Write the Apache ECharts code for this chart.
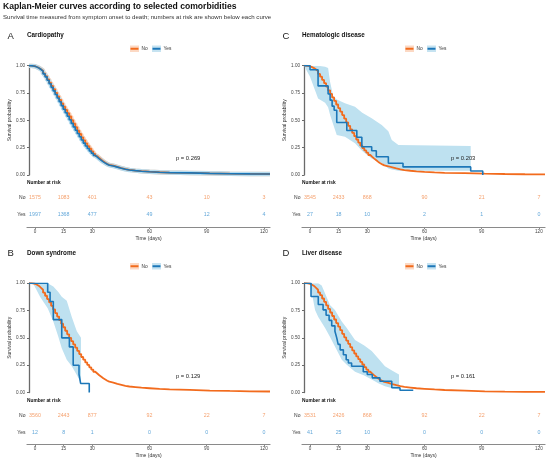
<!DOCTYPE html>
<html>
<head>
<meta charset="utf-8">
<script src="https://cdn.jsdelivr.net/npm/echarts@6/dist/echarts.min.js"></script>
<style>
  html, body { margin: 0; padding: 0; background: #fff; }
  #chart { width: 550px; height: 461px; }
</style>
</head>
<body>
<div id="chart"></div>
<script>
// risk table times and KM sampling times (days)
const riskTimes = [0, 15, 30, 60, 90, 120];
const kmTimes = [0, 1, 2, 3, 4, 5, 6, 7, 8, 9, 10, 11, 12, 13, 14, 15, 16, 17, 18, 19, 20,
  21, 22, 23, 24, 25, 26, 27, 28, 29, 30, 31, 32, 33, 34, 35, 36, 37, 38, 39, 40,
  42, 44, 46, 48, 50, 53, 56, 60, 65, 70, 80, 90, 100, 110, 120];

// A - Cardiopathy
const cardioNoS = [1, 0.998, 0.995, 0.988, 0.98, 0.968, 0.955, 0.93, 0.905, 0.875, 0.845, 0.815, 0.785, 0.752, 0.72, 0.688, 0.655, 0.625, 0.595, 0.565, 0.535,
  0.502, 0.47, 0.437, 0.405, 0.375, 0.345, 0.317, 0.29, 0.265, 0.24, 0.215, 0.192, 0.173, 0.155, 0.14, 0.125, 0.112, 0.1, 0.092, 0.085,
  0.074, 0.063, 0.054, 0.047, 0.04, 0.035, 0.03, 0.025, 0.022, 0.019, 0.015, 0.012, 0.01, 0.009, 0.008];
const cardioYesS = [1, 0.998, 0.995, 0.987, 0.978, 0.965, 0.95, 0.925, 0.898, 0.867, 0.835, 0.802, 0.77, 0.737, 0.705, 0.67, 0.635, 0.602, 0.57, 0.537, 0.505,
  0.472, 0.44, 0.41, 0.38, 0.35, 0.32, 0.292, 0.265, 0.242, 0.22, 0.2, 0.18, 0.164, 0.148, 0.134, 0.12, 0.109, 0.098, 0.09, 0.082,
  0.072, 0.062, 0.053, 0.046, 0.04, 0.035, 0.03, 0.025, 0.022, 0.019, 0.015, 0.012, 0.01, 0.009, 0.008];
const cardioRiskNo = [1575, 1083, 401, 43, 10, 3];
const cardioRiskYes = [1997, 1368, 477, 49, 12, 4];

// C - Hematologic disease
const hematNoS = [1, 0.998, 0.995, 0.987, 0.978, 0.965, 0.95, 0.925, 0.9, 0.87, 0.84, 0.808, 0.775, 0.742, 0.71, 0.678, 0.645, 0.612, 0.58, 0.548, 0.515,
  0.482, 0.45, 0.417, 0.385, 0.355, 0.325, 0.297, 0.27, 0.247, 0.225, 0.204, 0.183, 0.166, 0.15, 0.135, 0.12, 0.108, 0.097, 0.088, 0.08,
  0.07, 0.06, 0.051, 0.045, 0.039, 0.034, 0.029, 0.024, 0.02, 0.017, 0.012, 0.009, 0.007, 0.006, 0.005];
const hematYesT = [0, 3, 7, 12, 13, 14, 15, 16.3, 21.3, 26.3, 28.8, 33.7, 36, 42, 49.3, 83, 89];
const hematYesS = [1, 0.963, 0.815, 0.741, 0.685, 0.63, 0.593, 0.481, 0.407, 0.345, 0.259, 0.222, 0.167, 0.107, 0.074, 0.037, 0];
const hematBandT = [0, 3, 7, 10.5, 12, 13, 14.6, 16.3, 20.4, 25.4, 29, 33.7, 38.7, 42, 43.7, 47, 83];
const hematBandHi = [1, 1, 1, 0.99, 0.98, 0.85, 0.716, 0.69, 0.656, 0.625, 0.57, 0.52, 0.457, 0.4, 0.32, 0.275, 0.265];
const hematBandLo = [1, 0.9, 0.7, 0.66, 0.62, 0.55, 0.46, 0.366, 0.35, 0.29, 0.22, 0.15, 0.11, 0.06, 0.05, 0.04, 0.04];
const hematRiskNo = [3545, 2433, 868, 90, 21, 7];
const hematRiskYes = [27, 18, 10, 2, 1, 0];

// B - Down syndrome
const downNoS = [1, 0.998, 0.995, 0.986, 0.975, 0.958, 0.94, 0.913, 0.885, 0.855, 0.825, 0.793, 0.76, 0.727, 0.695, 0.662, 0.63, 0.597, 0.565, 0.532, 0.5,
  0.47, 0.44, 0.41, 0.38, 0.352, 0.325, 0.3, 0.275, 0.252, 0.23, 0.21, 0.19, 0.174, 0.158, 0.144, 0.13, 0.119, 0.108, 0.099, 0.09,
  0.079, 0.07, 0.061, 0.055, 0.05, 0.044, 0.039, 0.033, 0.028, 0.024, 0.018, 0.014, 0.011, 0.009, 0.008];
const downYesT = [0, 9.3, 10.5, 12.1, 16.3, 20.1, 22, 24.9, 25.7, 30];
const downYesS = [1, 0.917, 0.833, 0.667, 0.5, 0.417, 0.25, 0.167, 0.083, 0];
const downBandT = [2, 5.5, 9.3, 12.1, 14.6, 16.3, 18.8, 21.3, 23.8, 25.9];
const downBandHi = [1, 1, 1, 0.97, 0.92, 0.875, 0.84, 0.69, 0.56, 0.5];
const downBandLo = [1, 0.875, 0.77, 0.65, 0.51, 0.405, 0.3, 0.24, 0.16, 0.09];
const downRiskNo = [3560, 2443, 877, 92, 22, 7];
const downRiskYes = [12, 8, 1, 0, 0, 0];

// D - Liver disease
const liverNoS = [1, 0.998, 0.995, 0.986, 0.975, 0.958, 0.94, 0.915, 0.89, 0.86, 0.83, 0.798, 0.765, 0.732, 0.7, 0.668, 0.635, 0.602, 0.57, 0.537, 0.505,
  0.475, 0.445, 0.415, 0.385, 0.357, 0.33, 0.305, 0.28, 0.256, 0.232, 0.21, 0.19, 0.173, 0.157, 0.142, 0.128, 0.117, 0.106, 0.097, 0.088,
  0.077, 0.067, 0.058, 0.051, 0.045, 0.039, 0.034, 0.028, 0.023, 0.018, 0.011, 0.008, 0.006, 0.005, 0.005];
const liverYesT = [0, 3.5, 7.1, 9.5, 11, 12.5, 13.8, 15.4, 16.3, 17, 18, 19.6, 21, 22.1, 23.7, 29.5, 31.5, 34, 37.8, 43.7, 47.8, 54.4];
const liverYesS = [1, 0.878, 0.805, 0.756, 0.707, 0.66, 0.61, 0.56, 0.5, 0.44, 0.39, 0.345, 0.3, 0.27, 0.24, 0.19, 0.164, 0.134, 0.103, 0.043, 0.02, 0.02];
const liverBandT = [0, 3, 5.5, 7.1, 8.8, 10.5, 12.9, 15.4, 18.8, 21.3, 25.4, 30, 33.7, 37, 40.3, 44, 47.3];
const liverBandHi = [1, 1, 1, 1, 0.98, 0.906, 0.8, 0.755, 0.65, 0.59, 0.48, 0.43, 0.38, 0.31, 0.24, 0.2, 0.164];
const liverBandLo = [1, 1, 0.755, 0.69, 0.64, 0.59, 0.51, 0.42, 0.3, 0.255, 0.19, 0.155, 0.118, 0.085, 0.057, 0.04, 0.027];
const liverRiskNo = [3531, 2426, 868, 92, 22, 7];
const liverRiskYes = [41, 25, 10, 0, 0, 0];

const FONT = 'Liberation Sans, Arial, sans-serif';
const ORANGE = '#F26B1D';
const BLUE = '#1C77B8';
const ORANGE_TXT = '#F3894A';
const BLUE_TXT = '#3B91CF';
const BAND = '#BEE1F0';

const panels = [
  { letter: 'A', title: 'Cardiopathy', ox: 0, oy: 0, noT: kmTimes, noS: cardioNoS, yesT: kmTimes, yesS: cardioYesS,
    halo: true, riskNo: cardioRiskNo, riskYes: cardioRiskYes, p: 'p = 0.269' },
  { letter: 'C', title: 'Hematologic disease', ox: 275, oy: 0, noT: kmTimes, noS: hematNoS, yesT: hematYesT, yesS: hematYesS,
    band: [hematBandT, hematBandLo, hematBandHi], riskNo: hematRiskNo, riskYes: hematRiskYes, p: 'p = 0.203' },
  { letter: 'B', title: 'Down syndrome', ox: 0, oy: 217.5, noT: kmTimes, noS: downNoS, yesT: downYesT, yesS: downYesS,
    band: [downBandT, downBandLo, downBandHi], riskNo: downRiskNo, riskYes: downRiskYes, p: 'p = 0.129' },
  { letter: 'D', title: 'Liver disease', ox: 275, oy: 217.5, noT: kmTimes, noS: liverNoS, yesT: liverYesT, yesS: liverYesS,
    band: [liverBandT, liverBandLo, liverBandHi], riskNo: liverRiskNo, riskYes: liverRiskYes, p: 'p = 0.161' }
];

const zip = (t, s) => t.map((v, i) => [v, s[i]]);

const grid = [], xAxis = [], yAxis = [], series = [];
const graphic = [
  { type: 'text', left: 3, top: 2, z: 100, style: { text: 'Kaplan-Meier curves according to selected comorbidities',
    font: 'bold 8.6px ' + FONT, fill: '#111' } },
  { type: 'text', left: 3, top: 14.5, z: 100, style: { text: 'Survival time measured from symptom onset to death; numbers at risk are shown below each curve',
    font: '6.1px ' + FONT, fill: '#333' } }
];

panels.forEach((p, i) => {
  const gp = i * 2, gr = i * 2 + 1;
  grid.push({ left: p.ox + 27, top: p.oy + 65.7, width: 243, height: 109.3 });
  grid.push({ left: p.ox + 27, top: p.oy + 189.5, width: 243, height: 34 });

  xAxis.push({ type: 'value', gridIndex: gp, min: -1, max: 120, show: false });
  xAxis.push({
    type: 'value', gridIndex: gr, min: -4.2, max: 123.2, offset: 3.5,
    name: 'Time (days)', nameLocation: 'middle', nameGap: 9,
    nameTextStyle: { fontSize: 5, color: '#333', fontFamily: FONT },
    axisLine: { show: true, lineStyle: { color: '#8a8a8a', width: 1.2 } },
    axisTick: { show: true, length: 2, lineStyle: { color: '#8a8a8a' }, customValues: riskTimes },
    axisLabel: { fontSize: 4.6, color: '#444', margin: 2, fontFamily: FONT, customValues: riskTimes },
    splitLine: { show: false }
  });

  yAxis.push({
    type: 'value', gridIndex: gp, min: 0, max: 1, interval: 0.25,
    name: 'Survival probability', nameLocation: 'middle', nameGap: 14,
    nameTextStyle: { fontSize: 5, color: '#333', fontFamily: FONT },
    axisLine: { show: true, lineStyle: { color: '#6a6a6a', width: 1.3 } },
    axisTick: { show: true, length: 2, lineStyle: { color: '#6a6a6a' } },
    axisLabel: { fontSize: 4.6, color: '#444', margin: 2, fontFamily: FONT, formatter: v => v.toFixed(2) },
    splitLine: { show: false }
  });
  yAxis.push({
    type: 'category', gridIndex: gr, data: ['Yes', 'No'],
    axisLine: { show: false }, axisTick: { show: false },
    axisLabel: { fontSize: 5, color: '#333', margin: 1.5, fontFamily: FONT }
  });

  if (p.band) {
    const [bt, lo, hi] = p.band;
    series.push({
      type: 'custom', xAxisIndex: gp, yAxisIndex: gp, silent: true, z: 1, clip: true,
      data: [[0, 0]],
      renderItem: (params, api) => {
        const pts = bt.map((t, k) => api.coord([t, hi[k]]));
        for (let k = bt.length - 1; k >= 0; k--) pts.push(api.coord([bt[k], lo[k]]));
        return { type: 'polygon', shape: { points: pts }, style: { fill: BAND } };
      }
    });
  }
  if (p.halo) {
    series.push({ type: 'line', xAxisIndex: gp, yAxisIndex: gp, step: 'end', showSymbol: false, silent: true, z: 1,
      data: zip(p.noT, p.noS), lineStyle: { color: '#FBCDB0', width: 4.5 } });
    series.push({ type: 'line', xAxisIndex: gp, yAxisIndex: gp, step: 'end', showSymbol: false, silent: true, z: 1,
      data: zip(p.yesT, p.yesS), lineStyle: { color: '#B7DCEF', width: 4.5 } });
  }
  series.push({ name: 'No', type: 'line', xAxisIndex: gp, yAxisIndex: gp, step: 'end', showSymbol: false, z: 3,
    data: zip(p.noT, p.noS), lineStyle: { color: ORANGE, width: 1.8 } });
  series.push({ name: 'Yes', type: 'line', xAxisIndex: gp, yAxisIndex: gp, step: 'end', showSymbol: false, z: 4,
    data: zip(p.yesT, p.yesS), lineStyle: { color: BLUE, width: 1.6 } });

  [['No', p.riskNo, ORANGE_TXT], ['Yes', p.riskYes, BLUE_TXT]].forEach(([row, vals, col]) => {
    series.push({
      type: 'scatter', xAxisIndex: gr, yAxisIndex: gr, symbolSize: 1, silent: true,
      itemStyle: { color: 'rgba(0,0,0,0)' },
      data: riskTimes.map((t, k) => [t, row, vals[k]]),
      label: { show: true, position: 'inside', formatter: d => d.value[2], fontSize: 5.3, color: col, fontFamily: FONT }
    });
  });

  // panel letter, title, legend, p-value, risk header
  graphic.push({ type: 'text', left: p.ox + 7.5, top: p.oy + 31, z: 100, style: { text: p.letter, font: '9.5px ' + FONT, fill: '#222' } });
  graphic.push({ type: 'text', left: p.ox + 27, top: p.oy + 32.5, z: 100, style: { text: p.title, font: 'bold 6.3px ' + FONT, fill: '#111' } });
  graphic.push({ type: 'group', left: p.ox + 128, top: p.oy + 45.5, z: 100, children: [
    { type: 'rect', shape: { x: 0, y: 0, width: 9, height: 6.5 }, style: { fill: '#FCD9C4' } },
    { type: 'line', shape: { x1: 0.5, y1: 3.25, x2: 8.5, y2: 3.25 }, style: { stroke: ORANGE, lineWidth: 2 } },
    { type: 'text', x: 11.5, y: 3.25, style: { text: 'No', font: '4.8px ' + FONT, fill: '#333', verticalAlign: 'middle' } },
    { type: 'rect', shape: { x: 22, y: 0, width: 9, height: 6.5 }, style: { fill: '#C6E3F1' } },
    { type: 'line', shape: { x1: 22.5, y1: 3.25, x2: 30.5, y2: 3.25 }, style: { stroke: BLUE, lineWidth: 2 } },
    { type: 'text', x: 33.5, y: 3.25, style: { text: 'Yes', font: '4.8px ' + FONT, fill: '#333', verticalAlign: 'middle' } }
  ] });
  graphic.push({ type: 'text', left: p.ox + 176, top: p.oy + 155.5, z: 100, style: { text: p.p, font: '5.8px ' + FONT, fill: '#222' } });
  graphic.push({ type: 'text', left: p.ox + 27, top: p.oy + 180.5, z: 100, style: { text: 'Number at risk', font: 'bold 4.8px ' + FONT, fill: '#111' } });
});

const chart = echarts.init(document.getElementById('chart'), null, { renderer: 'canvas' });
chart.setOption({
  backgroundColor: '#fff',
  animation: false,
  textStyle: { fontFamily: FONT },
  grid, xAxis, yAxis, series, graphic
});
</script>
</body>
</html>
